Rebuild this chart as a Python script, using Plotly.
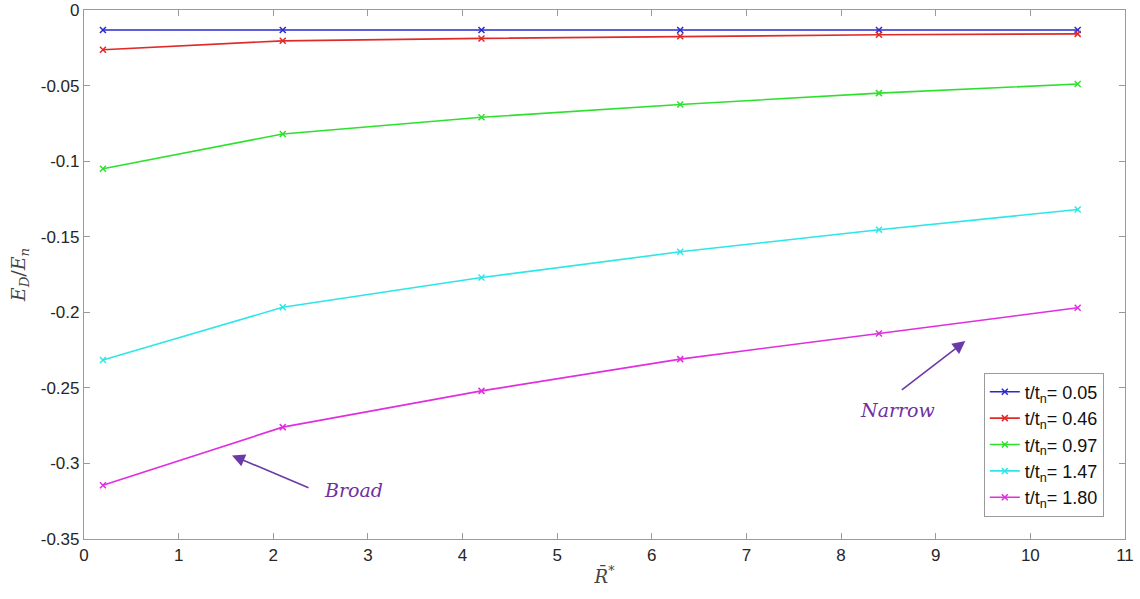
import plotly.graph_objects as go

r_star = [0.2, 2.1, 4.2, 6.3, 8.4, 10.5]
ed_005 = [-0.0132, -0.0132, -0.0132, -0.0132, -0.0132, -0.0132]
ed_046 = [-0.0263, -0.0204, -0.0188, -0.0174, -0.0164, -0.0158]
ed_097 = [-0.105, -0.082, -0.071, -0.0625, -0.055, -0.049]
ed_147 = [-0.2316, -0.1967, -0.177, -0.160, -0.1454, -0.132]
ed_180 = [-0.3145, -0.276, -0.252, -0.231, -0.214, -0.197]

series_names = ["t/t<sub>n</sub>= 0.05", "t/t<sub>n</sub>= 0.46", "t/t<sub>n</sub>= 0.97",
                "t/t<sub>n</sub>= 1.47", "t/t<sub>n</sub>= 1.80"]
series_values = [ed_005, ed_046, ed_097, ed_147, ed_180]
series_colors = ["#2a2ad0", "#e02a2a", "#2ee02e", "#2ee6e6", "#e02ee0"]

x_ticks = list(range(0, 12))
y_ticks = [0, -0.05, -0.1, -0.15, -0.2, -0.25, -0.3, -0.35]
y_tick_text = ["0", "-0.05", "-0.1", "-0.15", "-0.2", "-0.25", "-0.3", "-0.35"]

fig = go.Figure()
for name, vals, col in zip(series_names, series_values, series_colors):
    fig.add_trace(go.Scatter(
        x=r_star, y=vals, mode="lines+markers", name=name,
        line=dict(color=col, width=1.6),
        marker=dict(symbol="x-thin", size=6, line=dict(color=col, width=1.5), color=col),
    ))

axis_common = dict(
    showgrid=False, zeroline=False, showline=True, linecolor="#9a9a9a", linewidth=1.2,
    mirror="ticks", ticks="inside", ticklen=6, tickcolor="#9a9a9a", tickwidth=1,
    tickfont=dict(family="Liberation Sans, Arial", size=17, color="#262626"),
    automargin=False, ticklabeloverflow="allow",
)

fig.update_xaxes(range=[0, 11], tickvals=x_ticks, ticktext=[str(v) for v in x_ticks],
                 title=dict(text="<i>R̄</i><sup>*</sup>", font=dict(family="DejaVu Serif", size=18, color="#444"),
                            standoff=6),
                 **axis_common)
fig.update_yaxes(range=[-0.35, 0], tickvals=y_ticks, ticktext=y_tick_text,
                 title=dict(text="<i>E<sub>D</sub></i>/<i>E<sub>n</sub></i>",
                            font=dict(family="DejaVu Serif", size=19, color="#444"), standoff=10),
                 **axis_common)

arrow_color = "#6a3aa8"
text_color = "#7030a0"
fig.add_annotation(x=1.564, y=-0.2947, ax=78, ay=33, showarrow=True, arrowhead=2, arrowsize=1.6,
                   arrowwidth=1.6, arrowcolor=arrow_color, text="")
fig.add_annotation(x=9.313, y=-0.219, ax=-65, ay=50, showarrow=True, arrowhead=2, arrowsize=1.6,
                   arrowwidth=1.6, arrowcolor=arrow_color, text="")
fig.add_annotation(x=2.844, y=-0.3178, showarrow=False, text="<i>Broad</i>",
                   font=dict(family="DejaVu Serif", size=19, color=text_color))
fig.add_annotation(x=8.594, y=-0.2645, showarrow=False, text="<i>Narrow</i>",
                   font=dict(family="DejaVu Serif", size=19, color=text_color))

fig.update_layout(
    width=1140, height=599,
    margin=dict(l=84, r=15, t=10, b=60),
    paper_bgcolor="white", plot_bgcolor="white",
    legend=dict(x=0.922, y=0.1786, xanchor="center", yanchor="middle",
                bgcolor="white", bordercolor="#9a9a9a", borderwidth=1,
                font=dict(family="Liberation Sans, Arial", size=18, color="#111"),
                itemwidth=30, tracegroupgap=0),
    showlegend=True,
)

fig.write_html("out.html", config={"displayModeBar": False},
               post_script="document.body.style.margin='0';")
